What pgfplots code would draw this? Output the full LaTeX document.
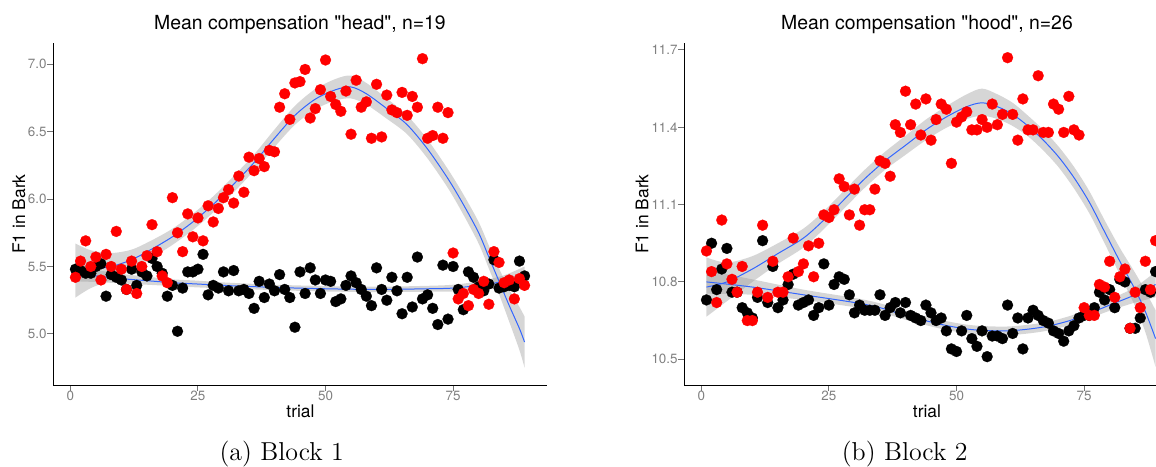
\documentclass[border=0pt]{standalone}
\usepackage{fontspec}
\usepackage{pgfplots}
\usepackage{pgfplotstable}
\pgfplotsset{compat=1.18}
\usepgfplotslibrary{fillbetween}
\newfontfamily\hv{TeX Gyre Heros}
\definecolor{ggblue}{HTML}{3366FF}
\definecolor{ticklab}{gray}{0.5}

% Block 1, black group
\pgfplotstableread{
t v
1 5.48
2 5.47
3 5.45
4 5.45
5 5.50
6 5.52
7 5.28
8 5.44
9 5.42
10 5.40
11 5.33
12 5.48
13 5.36
14 5.46
15 5.43
16 5.56
17 5.50
18 5.45
19 5.28
20 5.36
21 5.02
22 5.34
23 5.46
24 5.46
25 5.48
26 5.59
27 5.29
28 5.36
29 5.34
30 5.46
31 5.32
32 5.47
33 5.32
34 5.33
35 5.30
36 5.19
37 5.39
38 5.27
39 5.37
40 5.32
41 5.44
42 5.33
43 5.27
44 5.05
45 5.46
46 5.30
47 5.49
48 5.40
49 5.30
50 5.40
51 5.39
52 5.24
53 5.26
54 5.36
55 5.43
56 5.38
57 5.33
58 5.28
59 5.21
60 5.49
61 5.33
62 5.25
63 5.42
64 5.32
65 5.15
66 5.42
67 5.20
68 5.57
69 5.26
70 5.29
71 5.19
72 5.07
73 5.51
74 5.11
75 5.50
76 5.33
77 5.18
78 5.46
79 5.42
80 5.35
81 5.32
82 5.37
83 5.55
84 5.34
85 5.35
86 5.36
87 5.35
88 5.54
89 5.43
}\LBk

% Block 1, red group
\pgfplotstableread{
t v
1 5.42
2 5.54
3 5.69
4 5.50
5 5.57
6 5.40
7 5.59
8 5.50
9 5.76
10 5.48
11 5.33
12 5.54
13 5.30
14 5.50
15 5.58
16 5.81
17 5.61
18 5.43
19 5.38
20 6.01
21 5.75
22 5.61
23 5.89
24 5.72
25 5.86
26 5.69
27 5.95
28 5.83
29 5.93
30 6.01
31 6.07
32 5.97
33 6.17
34 6.05
35 6.31
36 6.21
37 6.30
38 6.24
39 6.36
40 6.35
41 6.68
42 6.78
43 6.59
44 6.86
45 6.87
46 6.96
47 6.60
48 6.67
49 6.81
50 7.03
51 6.76
52 6.70
53 6.65
54 6.80
55 6.48
56 6.88
57 6.68
58 6.72
59 6.45
60 6.85
61 6.46
62 6.77
63 6.66
64 6.64
65 6.79
66 6.62
67 6.76
68 6.68
69 7.04
70 6.45
71 6.47
72 6.68
73 6.45
74 6.64
75 5.60
76 5.26
77 5.30
78 5.21
79 5.33
80 5.30
81 5.39
82 5.22
83 5.61
84 5.53
85 5.38
86 5.40
87 5.26
88 5.41
89 5.36
}\LRd

% Block 1 smooths
\pgfplotstableread{
t y lo hi
1 5.45 5.39 5.51
5 5.43 5.385 5.475
10 5.41 5.375 5.445
15 5.395 5.365 5.425
20 5.38 5.355 5.405
25 5.37 5.345 5.395
30 5.36 5.338 5.382
40 5.345 5.325 5.365
50 5.335 5.315 5.355
60 5.33 5.31 5.35
70 5.335 5.313 5.357
75 5.34 5.315 5.365
80 5.36 5.33 5.39
85 5.39 5.345 5.435
89 5.43 5.36 5.50
}\LBs

\pgfplotstableread{
t y lo hi
1 5.47 5.27 5.67
4 5.48 5.34 5.62
8 5.50 5.40 5.60
12 5.55 5.475 5.625
16 5.63 5.565 5.695
20 5.72 5.66 5.78
24 5.83 5.77 5.89
28 5.96 5.90 6.02
32 6.11 6.05 6.17
36 6.27 6.21 6.33
40 6.45 6.385 6.515
44 6.62 6.55 6.69
48 6.74 6.665 6.815
52 6.81 6.73 6.89
55 6.83 6.745 6.915
58 6.78 6.70 6.86
62 6.67 6.595 6.745
66 6.55 6.48 6.62
70 6.37 6.30 6.44
74 6.15 6.08 6.22
77 5.96 5.885 6.035
80 5.75 5.67 5.83
82 5.57 5.485 5.655
84 5.39 5.295 5.485
86 5.21 5.09 5.33
88 5.04 4.88 5.20
89 4.94 4.75 5.13
}\LRs

% Block 2, black group
\pgfplotstableread{
t v
1 10.73
2 10.95
3 10.77
4 10.85
5 10.93
6 10.76
7 10.76
8 10.70
9 10.68
10 10.66
11 10.74
12 10.96
13 10.72
14 10.86
15 10.70
16 10.73
17 10.79
18 10.83
19 10.71
20 10.72
21 10.73
22 10.67
23 10.70
24 10.87
25 10.71
26 10.79
27 10.82
28 10.81
29 10.75
30 10.68
31 10.71
32 10.69
33 10.69
34 10.69
35 10.75
36 10.67
37 10.70
38 10.72
39 10.68
40 10.72
41 10.67
42 10.66
43 10.65
44 10.71
45 10.68
46 10.65
47 10.66
48 10.61
49 10.54
50 10.53
51 10.61
52 10.67
53 10.58
54 10.55
55 10.61
56 10.51
57 10.59
58 10.59
59 10.58
60 10.71
61 10.60
62 10.66
63 10.54
64 10.66
65 10.69
66 10.67
67 10.65
68 10.64
69 10.61
70 10.60
71 10.57
72 10.61
73 10.63
74 10.66
75 10.67
76 10.67
77 10.70
78 10.76
79 10.73
80 10.77
81 10.70
82 10.81
83 10.80
84 10.62
85 10.62
86 10.66
87 10.77
88 10.76
89 10.84
}\RBk

% Block 2, red group
\pgfplotstableread{
t v
1 10.92
2 10.84
3 10.72
4 11.04
5 10.87
6 10.81
7 10.76
8 10.86
9 10.65
10 10.65
11 10.76
12 11.02
13 10.74
14 10.88
15 10.76
16 10.76
17 10.82
18 10.97
19 10.84
20 10.87
21 10.94
22 10.82
23 10.95
24 11.06
25 11.05
26 11.08
27 11.20
28 11.17
29 11.06
30 11.16
31 11.02
32 11.08
33 11.08
34 11.16
35 11.27
36 11.26
37 11.21
38 11.41
39 11.38
40 11.54
41 11.41
42 11.49
43 11.37
44 11.51
45 11.35
46 11.43
47 11.49
48 11.47
49 11.26
50 11.42
51 11.44
52 11.46
53 11.39
54 11.39
55 11.43
56 11.40
57 11.49
58 11.41
59 11.45
60 11.67
61 11.45
62 11.35
63 11.51
64 11.39
65 11.39
66 11.60
67 11.38
68 11.38
69 11.49
70 11.47
71 11.38
72 11.52
73 11.39
74 11.37
75 10.70
76 10.67
77 10.67
78 10.79
79 10.78
80 10.88
81 10.74
82 10.82
83 10.85
84 10.62
85 10.76
86 10.70
87 10.88
88 10.77
89 10.96
}\RRd

% Block 2 smooths
\pgfplotstableread{
t y lo hi
1 10.80 10.755 10.845
10 10.78 10.75 10.81
20 10.75 10.73 10.77
30 10.72 10.702 10.738
35 10.70 10.683 10.717
40 10.67 10.653 10.687
47 10.635 10.618 10.652
53 10.615 10.598 10.632
60 10.61 10.593 10.627
67 10.625 10.608 10.642
73 10.655 10.637 10.673
80 10.71 10.688 10.732
85 10.75 10.72 10.78
89 10.79 10.74 10.84
}\RBs

\pgfplotstableread{
t y lo hi
1 10.78 10.665 10.895
5 10.80 10.725 10.875
10 10.85 10.80 10.90
15 10.91 10.87 10.95
20 10.97 10.933 11.007
24 11.04 11.005 11.075
28 11.12 11.085 11.155
32 11.20 11.165 11.235
36 11.27 11.235 11.305
40 11.33 11.293 11.367
44 11.39 11.35 11.43
48 11.44 11.398 11.482
52 11.48 11.432 11.528
55 11.495 11.445 11.55
58 11.48 11.432 11.528
61 11.45 11.405 11.495
64 11.405 11.365 11.445
67 11.35 11.31 11.39
70 11.285 11.245 11.325
73 11.205 11.163 11.247
76 11.11 11.067 11.153
79 10.995 10.95 11.04
82 10.88 10.828 10.932
85 10.77 10.705 10.835
87 10.685 10.605 10.765
89 10.58 10.47 10.69
}\RRs

\pgfplotsset{
  ggpanel/.style={
    scale only axis, width=247pt, height=171pt,
    anchor=south west,
    axis x line*=bottom, axis y line*=left,
    axis line style={black, line width=0.5pt},
    xmin=-3.4, xmax=93.4, xtick={0,25,50,75},
    scaled y ticks=false,
    tick align=outside, major tick length=3pt,
    every tick/.style={black!55, line width=0.5pt},
    tick label style={font=\hv\fontsize{6.7}{7.5}\selectfont, text=ticklab, inner sep=0pt},
    /pgf/number format/assume math mode=true,
    yticklabel style={/pgf/number format/fixed, /pgf/number format/fixed zerofill, /pgf/number format/precision=1},
    clip=false,
  },
  dots/.style={only marks, color=#1, mark=*, mark size=2.75pt, mark options={solid, draw=#1, fill=#1, line width=0.1pt}},
  ribbon/.style={draw=none, fill=black!40, fill opacity=0.4},
  fit/.style={ggblue, line width=0.5pt, smooth, no marks},
}

\begin{document}
\begin{tikzpicture}
\begin{axis}[ggpanel, at={(26.5pt,40.5pt)}, ymin=4.622, ymax=7.156, ytick={5,5.5,6,6.5,7}]
  \addplot[dots=black] table[x=t,y=v]{\LBk};
  \addplot[dots=red] table[x=t,y=v]{\LRd};
  \addplot[draw=none, name path=lbhi, smooth, forget plot] table[x=t,y=hi]{\LBs};
  \addplot[draw=none, name path=lblo, smooth, forget plot] table[x=t,y=lo]{\LBs};
  \addplot[ribbon] fill between[of=lbhi and lblo];
  \addplot[fit] table[x=t,y=y]{\LBs};
  \addplot[draw=none, name path=lrhi, smooth, forget plot] table[x=t,y=hi]{\LRs};
  \addplot[draw=none, name path=lrlo, smooth, forget plot] table[x=t,y=lo]{\LRs};
  \addplot[ribbon] fill between[of=lrhi and lrlo];
  \addplot[fit] table[x=t,y=y]{\LRs};
\end{axis}
\begin{axis}[ggpanel, at={(342pt,40.5pt)}, ymin=10.40, ymax=11.727, ytick={10.5,10.8,11.1,11.4,11.7}]
  \addplot[dots=black] table[x=t,y=v]{\RBk};
  \addplot[dots=red] table[x=t,y=v]{\RRd};
  \addplot[draw=none, name path=rbhi, smooth, forget plot] table[x=t,y=hi]{\RBs};
  \addplot[draw=none, name path=rblo, smooth, forget plot] table[x=t,y=lo]{\RBs};
  \addplot[ribbon] fill between[of=rbhi and rblo];
  \addplot[fit] table[x=t,y=y]{\RBs};
  \addplot[draw=none, name path=rrhi, smooth, forget plot] table[x=t,y=hi]{\RRs};
  \addplot[draw=none, name path=rrlo, smooth, forget plot] table[x=t,y=lo]{\RRs};
  \addplot[ribbon] fill between[of=rrhi and rrlo];
  \addplot[fit] table[x=t,y=y]{\RRs};
\end{axis}
% titles
\node[font=\hv\fontsize{9.7}{11}\selectfont, anchor=base] at (150pt,218.25pt) {Mean compensation "head", n=19};
\node[font=\hv\fontsize{9.7}{11}\selectfont, anchor=base] at (463.5pt,218.25pt) {Mean compensation "hood", n=26};
% axis labels
\node[font=\hv\fontsize{8.7}{10}\selectfont, anchor=base] at (150.25pt,24.15pt) {trial};
\node[font=\hv\fontsize{8.7}{10}\selectfont, anchor=base] at (463.5pt,24.15pt) {trial};
\node[font=\hv\fontsize{8.7}{10}\selectfont, anchor=base, rotate=90, inner sep=0pt] at (12.5pt,126pt) {F1 in Bark};
\node[font=\hv\fontsize{8.7}{10}\selectfont, anchor=base, rotate=90, inner sep=0pt] at (324.15pt,126pt) {F1 in Bark};
% captions
\node[font=\fontsize{12.95}{15}\selectfont, anchor=base, inner sep=0pt] at (140.85pt,3pt) {(a) Block 1};
\node[font=\fontsize{12.95}{15}\selectfont, anchor=base, inner sep=0pt] at (452.35pt,3pt) {(b) Block 2};
\pgfresetboundingbox
\path[use as bounding box] (0,0) rectangle (578pt,233pt);
\end{tikzpicture}
\end{document}
